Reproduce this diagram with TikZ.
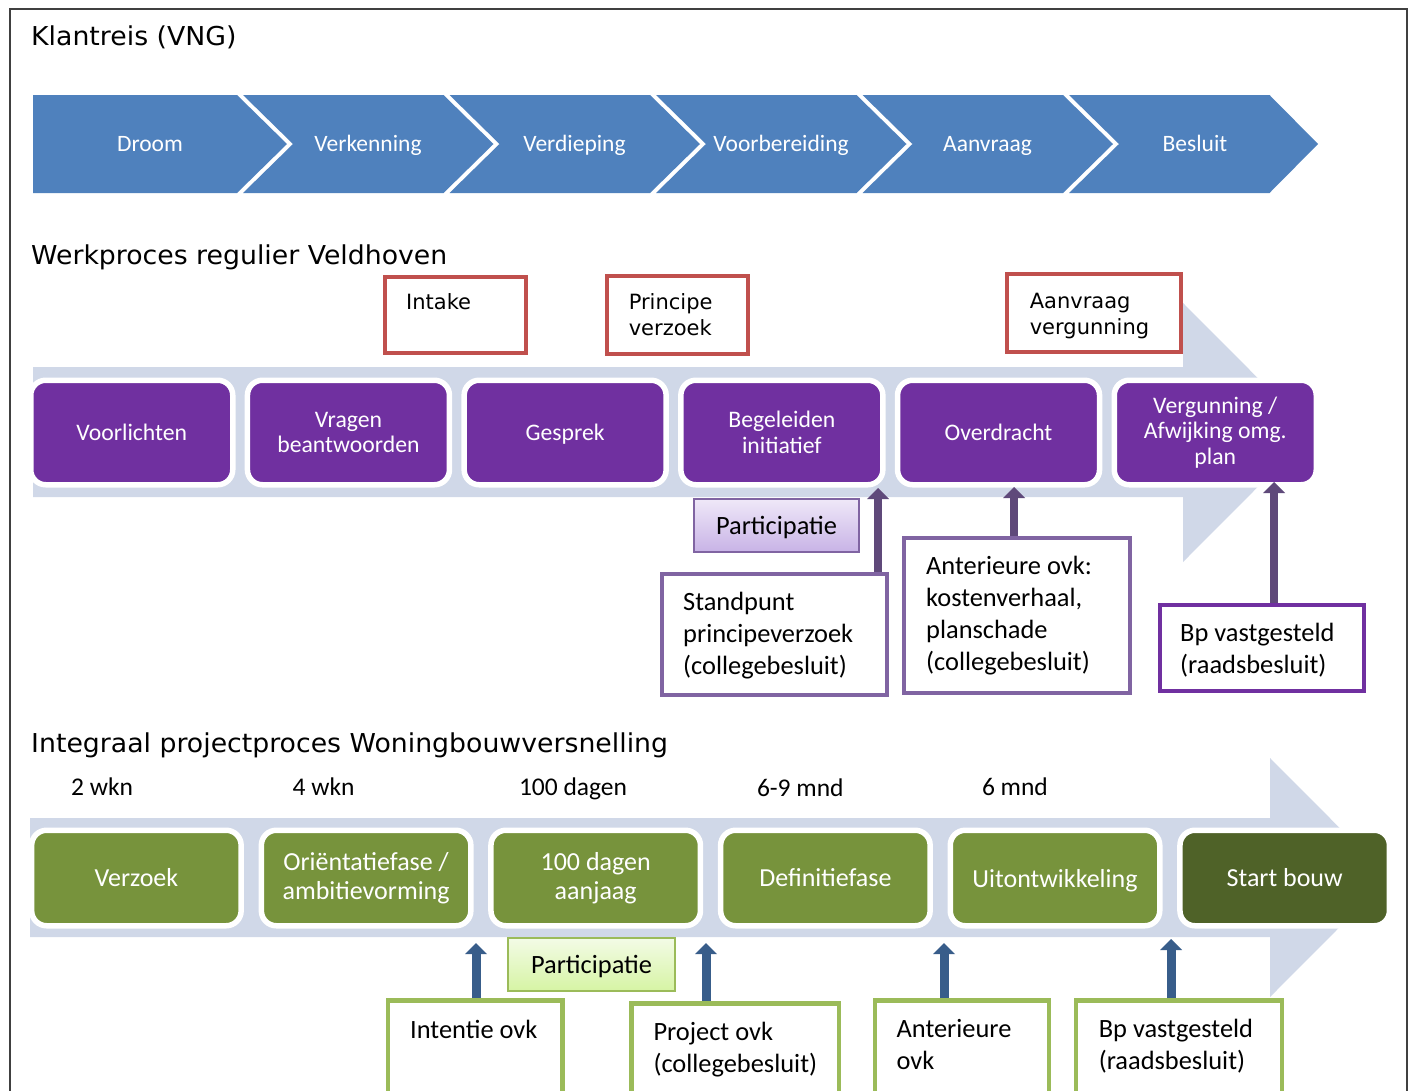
\documentclass[tikz,border=0pt]{standalone}
\usepackage{fontspec}
\setmainfont{Carlito}
\newfontfamily\verd{DejaVu Sans}
\newfontfamily\verdw[FakeStretch=1.028]{DejaVu Sans}
\usetikzlibrary{arrows.meta}
\definecolor{chevblue}{HTML}{4F81BD}
\definecolor{bandc}{HTML}{D0D8E8}
\definecolor{vpurple}{HTML}{7030A0}
\definecolor{lpurple}{HTML}{8064A2}
\definecolor{dpurple}{HTML}{5F497A}
\definecolor{vred}{HTML}{C0504D}
\definecolor{vgreen}{HTML}{77933C}
\definecolor{dgreen}{HTML}{4F6228}
\definecolor{lgreen}{HTML}{9BBB59}
\definecolor{darrow}{HTML}{385D8A}
\definecolor{framec}{HTML}{404040}
\definecolor{ppTop}{HTML}{EFE8F8}
\definecolor{ppBot}{HTML}{C8B3E6}
\definecolor{pgTop}{HTML}{F3FBE6}
\definecolor{pgBot}{HTML}{D6F4A4}
\begin{document}
\begin{tikzpicture}[x=1pt,y=-1pt,
  head/.style={font=\verdw\fontsize{26}{30}\selectfont, inner sep=0pt, anchor=base west},
  chevtxt/.style={text=white, font=\fontsize{23.5}{28}\selectfont, inner sep=0pt, anchor=base},
  pbox/.style={draw=white, line width=5.5pt, fill=vpurple, rounded corners=15pt,
    minimum width=202pt, minimum height=104.5pt, text=white, align=center,
    font=\fontsize{23.7}{25.8}\selectfont, inner sep=0pt},
  gbox/.style={draw=white, line width=5.5pt, fill=vgreen, rounded corners=15pt,
    minimum width=209.5pt, minimum height=95.5pt, text=white, align=center,
    font=\fontsize{26}{28.5}\selectfont, inner sep=0pt},
  nodepth/.style={text depth=0pt},
  redbox/.style={draw=vred, line width=4pt, fill=white, inner sep=0pt},
  lpbox/.style={draw=lpurple, line width=4pt, fill=white, inner sep=0pt},
  dpbox/.style={draw=vpurple, line width=4pt, fill=white, inner sep=0pt},
  lgbox/.style={draw=lgreen, line width=4.5pt, fill=white, inner sep=0pt},
  redtxt/.style={font=\verd\fontsize{21}{26}\selectfont, inner sep=0pt, anchor=north west, align=left},
  boxtxt/.style={font=\fontsize{26.4}{32.2}\selectfont, inner sep=0pt, anchor=north west, align=left},
  durtxt/.style={font=\fontsize{25.5}{30}\selectfont, inner sep=0pt, anchor=base west},
  partp/.style={draw=lpurple, line width=2pt, top color=ppTop, bottom color=ppBot,
    font=\fontsize{26.4}{30}\selectfont, inner sep=0pt, text height=17pt, text depth=0pt},
  partg/.style={draw=lgreen, line width=2pt, top color=pgTop, bottom color=pgBot,
    font=\fontsize{26.4}{30}\selectfont, inner sep=0pt, text height=17pt, text depth=0pt},
  parr/.style={draw=dpurple, line width=8.5pt, -{Triangle[width=22pt,length=11pt,line width=0pt]}},
  barr/.style={draw=darrow, line width=9pt, -{Triangle[width=22pt,length=11pt,line width=0pt]}}
]
\clip (0,0) rectangle (1411,1090);
\fill[white] (0,0) rectangle (1411,1090);
\draw[framec, line width=2.5pt] (10,1120) -- (10,9) -- (1407,9) -- (1407,1120);

% headings
\node[head] (h1) at (31,45.7) {Klantreis (VNG)};
\node[head] (h2) at (31,264) {Werkproces regulier Veldhoven};
\node[head] (h3) at (31,752) {Integraal projectproces Woningbouwversnelling};

% row 1 chevrons
\fill[chevblue] (33,95) -- (237,95) -- (287,144) -- (237,193) -- (33,193) -- cycle;
\fill[chevblue] (243,95) -- (443.5,95) -- (493.5,144) -- (443.5,193) -- (243,193) -- (293,144) -- cycle;
\fill[chevblue] (449.5,95) -- (650,95) -- (700,144) -- (650,193) -- (449.5,193) -- (499.5,144) -- cycle;
\fill[chevblue] (656,95) -- (856.5,95) -- (906.5,144) -- (856.5,193) -- (656,193) -- (706,144) -- cycle;
\fill[chevblue] (862.5,95) -- (1063,95) -- (1113,144) -- (1063,193) -- (862.5,193) -- (912.5,144) -- cycle;
\fill[chevblue] (1069,95) -- (1269.5,95) -- (1318,144) -- (1269.5,193) -- (1069,193) -- (1119,144) -- cycle;
\node[chevtxt] (c1) at (150,151.7) {Droom};
\node[chevtxt] (c2) at (368,151.7) {Verkenning};
\node[chevtxt] (c3) at (574.5,151.7) {Verdieping};
\node[chevtxt] (c4) at (781,151.7) {Voorbereiding};
\node[chevtxt] (c5) at (987.5,151.7) {Aanvraag};
\node[chevtxt] (c6) at (1195,151.7) {Besluit};

% row 2 band
\fill[bandc] (33,367) -- (1183,367) -- (1183,303) -- (1312,432.5) -- (1183,562) -- (1183,497) -- (33,497) -- cycle;

% red boxes
\node[redbox, minimum width=141pt, minimum height=76pt] (intake) at (455.5,315) {};
\node[redtxt] (intaket) at (406,293) {Intake};
\node[redbox, minimum width=141pt, minimum height=78pt] (princ) at (677.5,315) {};
\node[redtxt] (princt) at (628.6,293) {Principe\\verzoek};
\node[redbox, minimum width=174pt, minimum height=78pt] (aanv) at (1094,313) {};
\node[redtxt] (aanvt) at (1029.6,293) {Aanvraag\\vergunning};

% purple process boxes
\node[pbox] (voor) at (131.75,432.5) {Voorlichten};
\node[pbox] (vrag) at (348.45,432.5) {Vragen\\beantwoorden};
\node[pbox, nodepth] (gesp) at (565.15,432.5) {Gesprek};
\node[pbox] (bege) at (781.85,432.5) {Begeleiden\\initiatief};
\node[pbox] (over) at (998.55,432.5) {Overdracht};
\node[pbox] (verg) at (1215.25,432.5) {Vergunning /\\Afwijking omg.\\plan};

% participatie (purple)
\node[partp, minimum width=165pt, minimum height=53pt] (partp1) at (776.5,525.5) {Participatie};

% decision boxes row 2
\node[lpbox, minimum width=225pt, minimum height=121pt] (stand) at (774.5,634.5) {};
\node[boxtxt] (standt) at (683,591.5) {Standpunt\\principeverzoek\\(collegebesluit)};
\node[lpbox, minimum width=226pt, minimum height=155pt] (ant) at (1017,615.5) {};
\node[boxtxt] (antt) at (926,555.8) {Anterieure ovk:\\kostenverhaal,\\planschade\\(collegebesluit)};
\node[dpbox, minimum width=204.5pt, minimum height=86pt] (bp) at (1261.75,648) {};
\node[boxtxt] (bpt) at (1180,622.5) {Bp vastgesteld\\(raadsbesluit)};

% arrows row 2
\coordinate (pa1) at (878,488);
\coordinate (pa2) at (1014,487);
\coordinate (pa3) at (1274,482);
\draw[parr] (stand.north -| pa1) -- (pa1);
\draw[parr] (ant.north -| pa2) -- (pa2);
\draw[parr] (bp.north -| pa3) -- (pa3);

% row 3 durations
\node[durtxt] (d1) at (71,795) {2 wkn};
\node[durtxt] (d2) at (292.5,795) {4 wkn};
\node[durtxt] (d3) at (518.8,795) {100 dagen};
\node[durtxt] (d4) at (756.8,796) {6-9 mnd};
\node[durtxt] (d5) at (981.8,795) {6 mnd};

% row 3 band
\fill[bandc] (30,818) -- (1270,818) -- (1270,758) -- (1389,877.5) -- (1270,997) -- (1270,937) -- (30,937) -- cycle;

% green process boxes
\node[gbox] (verz) at (136.4,878) {Verzoek};
\node[gbox] (orie) at (366.1,878) {Oriëntatiefase /\\ambitievorming};
\node[gbox] (hond) at (595.7,878) {100 dagen\\aanjaag};
\node[gbox] (defi) at (825.4,878) {Definitiefase};
\node[gbox, nodepth] (uito) at (1055,878) {Uitontwikkeling};
\node[gbox, fill=dgreen] (start) at (1284.7,878) {Start bouw};

% participatie (green)
\node[partg, minimum width=167pt, minimum height=53pt] (partg1) at (591.5,964.5) {Participatie};

% bottom boxes
\node[lgbox, minimum width=174.7pt, minimum height=107.5pt] (inte) at (475.1,1054) {};
\node[boxtxt] (intet) at (410,1019.5) {Intentie ovk};
\node[lgbox, minimum width=207.5pt, minimum height=104.5pt] (proj) at (735,1055.5) {};
\node[boxtxt] (projt) at (653.3,1021.5) {Project ovk\\(collegebesluit)};
\node[lgbox, minimum width=173.8pt, minimum height=107.5pt] (ante) at (961.85,1054) {};
\node[boxtxt] (antet) at (896.4,1019.2) {Anterieure\\ovk};
\node[lgbox, minimum width=205.9pt, minimum height=107.5pt] (bpv) at (1178.8,1054) {};
\node[boxtxt] (bpvt) at (1098.6,1019.2) {Bp vastgesteld\\(raadsbesluit)};

% arrows row 3
\coordinate (ba1) at (476,943);
\coordinate (ba2) at (706,943);
\coordinate (ba3) at (944,943);
\coordinate (ba4) at (1171,939);
\draw[barr] (inte.north -| ba1) -- (ba1);
\draw[barr] (proj.north -| ba2) -- (ba2);
\draw[barr] (ante.north -| ba3) -- (ba3);
\draw[barr] (bpv.north -| ba4) -- (ba4);
\end{tikzpicture}
\end{document}
